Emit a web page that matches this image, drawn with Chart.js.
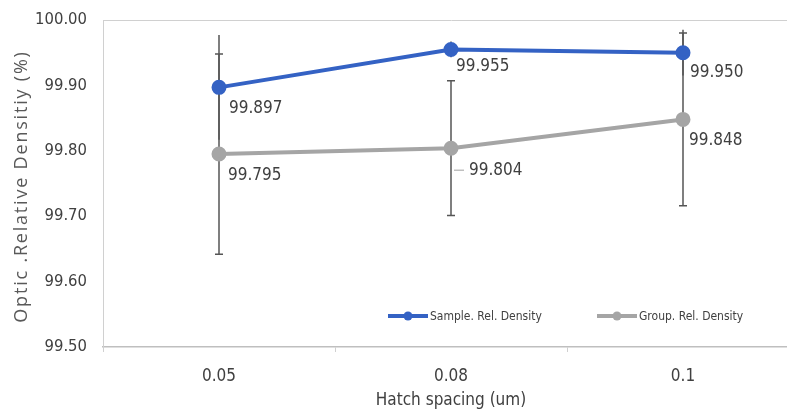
<!DOCTYPE html>
<html>
<head>
<meta charset="utf-8">
<script src="https://cdn.jsdelivr.net/npm/chart.js@4.4.0/dist/chart.umd.min.js"></script>
<style>
  html, body { margin: 0; padding: 0; background: #fff; overflow: hidden; }
  #wrap { width: 787px; height: 415px; overflow: hidden; }
</style>
</head>
<body>
<div id="wrap"><canvas id="myChart" width="820" height="415"></canvas></div>
<script>
// data
const hatchSpacing = ['0.05', '0.08', '0.1']
const sampleDensity = [99.897, 99.955, 99.95]
const groupDensity = [99.795, 99.804, 99.848]
const sampleError = [0.08, 0.012, 0.035]
const groupError = [0.153, 0.103, 0.132]
const yTicks = [99.5, 99.6, 99.7, 99.8, 99.9, 100.0]

const clrBlue = '#3462c4'
const clrGray = '#a5a5a5'
const clrText = '#404040'
const narrow = '"Liberation Sans Narrow", "DejaVu Sans Condensed", sans-serif'

// label offsets from each point (dx, dy)
const labelOffsets = [
  [[10, 21], [5, 17], [7, 20]],
  [[9, 22], [18, 22], [6, 21]],
]

const errorBars = {
  id: 'errorBars',
  beforeDatasetsDraw(chart) {
    const { ctx } = chart
    const y = chart.scales.y
    const sets = [
      { values: sampleDensity, err: sampleError, cap: false },
      { values: groupDensity, err: groupError, cap: true },
    ]
    ctx.save()
    ctx.strokeStyle = '#555'
    ctx.lineWidth = 1.5
    sets.forEach((s, di) => {
      const meta = chart.getDatasetMeta(di)
      meta.data.forEach((pt, i) => {
        const top = y.getPixelForValue(s.values[i] + s.err[i])
        const bot = y.getPixelForValue(s.values[i] - s.err[i])
        ctx.beginPath()
        ctx.moveTo(pt.x, top)
        ctx.lineTo(pt.x, bot)
        if (s.cap) {
          ctx.moveTo(pt.x - 4, top)
          ctx.lineTo(pt.x + 4, top)
          ctx.moveTo(pt.x - 4, bot)
          ctx.lineTo(pt.x + 4, bot)
        }
        ctx.stroke()
      })
    })
    ctx.restore()
  },
}

const valueLabels = {
  id: 'valueLabels',
  afterDatasetsDraw(chart) {
    const { ctx } = chart
    ctx.save()
    ctx.font = '17px ' + narrow
    ctx.fillStyle = clrText
    ctx.textBaseline = 'middle'
    ctx.textAlign = 'left'
    chart.data.datasets.forEach((ds, di) => {
      chart.getDatasetMeta(di).data.forEach((pt, i) => {
        const [dx, dy] = labelOffsets[di][i]
        ctx.fillText(ds.data[i].toFixed(3), pt.x + dx, pt.y + dy)
        // leader line on the shifted label
        if (dx > 15) {
          ctx.strokeStyle = '#a0a0a0'
          ctx.lineWidth = 1
          ctx.beginPath()
          ctx.moveTo(pt.x + 3, pt.y + dy)
          ctx.lineTo(pt.x + dx - 5, pt.y + dy)
          ctx.stroke()
        }
      })
    })
    ctx.restore()
  },
}

// y title drawn by hand to get the wide letter spacing
const yTitle = {
  id: 'yTitle',
  afterDraw(chart) {
    const { ctx, chartArea } = chart
    ctx.save()
    ctx.translate(22, (chartArea.top + chartArea.bottom) / 2 + 3)
    ctx.rotate(-Math.PI / 2)
    ctx.font = '18px "Open Sans", sans-serif'
    ctx.letterSpacing = '1.8px'
    ctx.fillStyle = '#595959'
    ctx.textAlign = 'center'
    ctx.textBaseline = 'middle'
    ctx.fillText('Optic .Relative Densitiy (%)', 0, 0)
    ctx.restore()
  },
}

const legendBox = {
  id: 'legendBox',
  afterDraw(chart) {
    const { ctx } = chart
    const items = [
      { x: 388, label: 'Sample. Rel. Density', color: clrBlue },
      { x: 597, label: 'Group. Rel. Density', color: clrGray },
    ]
    const ly = 316
    ctx.save()
    ctx.font = '12px ' + narrow
    ctx.textBaseline = 'middle'
    items.forEach((it) => {
      ctx.strokeStyle = it.color
      ctx.lineWidth = 4
      ctx.beginPath()
      ctx.moveTo(it.x, ly)
      ctx.lineTo(it.x + 40, ly)
      ctx.stroke()
      ctx.fillStyle = it.color
      ctx.beginPath()
      ctx.arc(it.x + 20, ly, 4.5, 0, Math.PI * 2)
      ctx.fill()
      ctx.fillStyle = clrText
      ctx.fillText(it.label, it.x + 42, ly + 1)
    })
    ctx.restore()
  },
}

const config = {
  type: 'line',
  data: {
    labels: hatchSpacing,
    datasets: [
      {
        label: 'Sample. Rel. Density',
        data: sampleDensity,
        borderColor: clrBlue,
        backgroundColor: clrBlue,
        borderWidth: 4,
        pointRadius: 5.5,
        pointHoverRadius: 5.5,
        tension: 0,
      },
      {
        label: 'Group. Rel. Density',
        data: groupDensity,
        borderColor: clrGray,
        backgroundColor: clrGray,
        borderWidth: 4,
        pointRadius: 5.5,
        pointHoverRadius: 5.5,
        tension: 0,
      },
    ],
  },
  options: {
    responsive: false,
    animation: false,
    layout: { padding: { top: 20, right: 21, left: 0, bottom: 0 } },
    plugins: {
      legend: { display: false },
      tooltip: { enabled: false },
    },
    scales: {
      x: {
        offset: true,
        afterFit: (scale) => {
          scale.height = 68
          scale.paddingLeft = 0
          scale.paddingRight = 0
        },
        grid: {
          drawOnChartArea: false,
          offset: true,
          tickLength: 5,
          color: '#d0d0d0',
        },
        border: { color: '#bfbfbf', width: 1.5 },
        ticks: {
          color: clrText,
          padding: 14,
          font: { family: narrow, size: 17 },
        },
        title: {
          display: true,
          text: 'Hatch spacing (um)',
          color: clrText,
          padding: { top: 1 },
          font: { family: narrow, size: 17 },
        },
      },
      y: {
        min: 99.5,
        max: 100,
        afterFit: (scale) => {
          scale.width = 103
          scale.paddingTop = 0
          scale.paddingBottom = 0
        },
        afterBuildTicks: (scale) => {
          scale.ticks = yTicks.map((v) => ({ value: v }))
        },
        grid: {
          drawTicks: false,
          color: (c) => (c.tick && c.tick.value === 100 ? '#d0d0d0' : 'transparent'),
        },
        border: { color: '#d0d0d0' },
        ticks: {
          color: clrText,
          padding: 16,
          font: { family: narrow, size: 16.5 },
          callback: (v) => Number(v).toFixed(2),
        },
      },
    },
  },
  plugins: [errorBars, valueLabels, yTitle, legendBox],
}

new Chart(document.getElementById('myChart'), config)
</script>
</body>
</html>
